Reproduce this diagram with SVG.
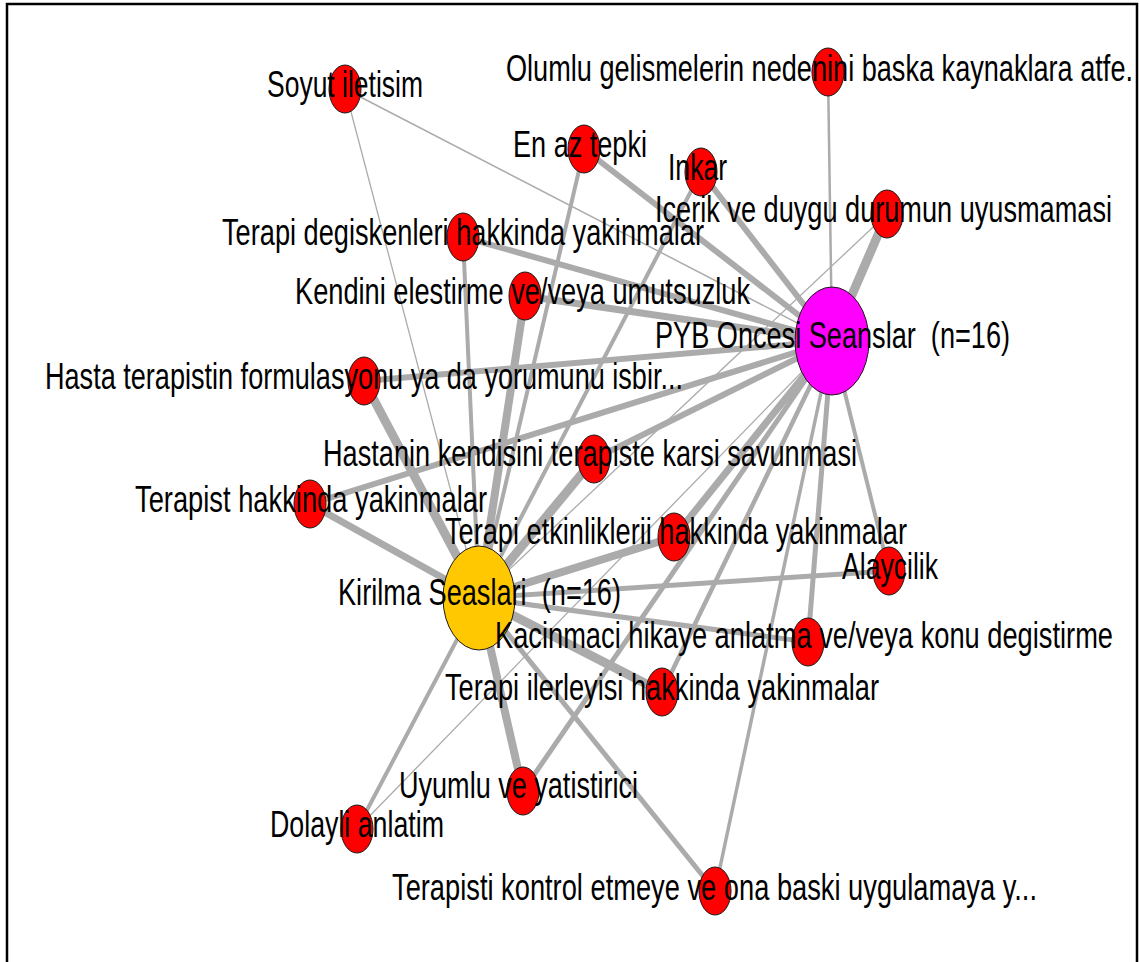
<svg xmlns="http://www.w3.org/2000/svg" width="1140" height="962" viewBox="0 0 1140 962">
  <style>
    .frame { fill: #ffffff; stroke: #000000; stroke-width: 2.5; }
    .edge { stroke: #ababab; stroke-linecap: butt; fill: none; }
    .leaf { fill: #ff0000; stroke: #1a1a1a; stroke-width: 1; }
    .hub-a { fill: #ff00ff; stroke: #1a1a1a; stroke-width: 1; }
    .hub-b { fill: #ffc800; stroke: #1a1a1a; stroke-width: 1; }
    .lbl { font-family: "Liberation Sans", Arial, sans-serif; font-size: 36px; fill: #000000; text-anchor: middle; }
  </style>

  <rect class="frame" x="7" y="4" width="1130" height="980"/>

  <!-- connectors: every category links to the two session groups -->
  <g id="edges" class="edge">
    <!-- PYB Oncesi Seanslar (832,341) -->
    <line x1="832" y1="341" x2="828" y2="72" stroke-width="2.5"/>
    <line x1="832" y1="341" x2="887" y2="214" stroke-width="9"/>
    <line x1="832" y1="341" x2="701" y2="172" stroke-width="6"/>
    <line x1="832" y1="341" x2="584" y2="149" stroke-width="6"/>
    <line x1="832" y1="341" x2="345" y2="89" stroke-width="1.5"/>
    <line x1="832" y1="341" x2="463" y2="237" stroke-width="6"/>
    <line x1="832" y1="341" x2="525" y2="296" stroke-width="7"/>
    <line x1="832" y1="341" x2="364" y2="381" stroke-width="6"/>
    <line x1="832" y1="341" x2="594" y2="459" stroke-width="6"/>
    <line x1="832" y1="341" x2="310" y2="504" stroke-width="6"/>
    <line x1="832" y1="341" x2="674" y2="537" stroke-width="7"/>
    <line x1="832" y1="341" x2="889" y2="571" stroke-width="4"/>
    <line x1="832" y1="341" x2="808" y2="642" stroke-width="5"/>
    <line x1="832" y1="341" x2="662" y2="692" stroke-width="4.5"/>
    <line x1="832" y1="341" x2="523" y2="791" stroke-width="5"/>
    <line x1="832" y1="341" x2="715" y2="891" stroke-width="3.5"/>
    <line x1="832" y1="341" x2="357" y2="829" stroke-width="1.3"/>
    <!-- Kirilma Seaslari (479,598) -->
    <line x1="479" y1="598" x2="345" y2="89" stroke-width="1.3"/>
    <line x1="479" y1="598" x2="584" y2="149" stroke-width="4"/>
    <line x1="479" y1="598" x2="701" y2="172" stroke-width="4"/>
    <line x1="479" y1="598" x2="887" y2="214" stroke-width="1.3"/>
    <line x1="479" y1="598" x2="463" y2="237" stroke-width="4"/>
    <line x1="479" y1="598" x2="525" y2="296" stroke-width="8"/>
    <line x1="479" y1="598" x2="364" y2="381" stroke-width="9"/>
    <line x1="479" y1="598" x2="594" y2="459" stroke-width="9"/>
    <line x1="479" y1="598" x2="310" y2="504" stroke-width="7"/>
    <line x1="479" y1="598" x2="674" y2="537" stroke-width="8"/>
    <line x1="479" y1="598" x2="889" y2="571" stroke-width="5"/>
    <line x1="479" y1="598" x2="808" y2="642" stroke-width="5"/>
    <line x1="479" y1="598" x2="662" y2="692" stroke-width="9"/>
    <line x1="479" y1="598" x2="523" y2="791" stroke-width="8"/>
    <line x1="479" y1="598" x2="715" y2="891" stroke-width="5"/>
    <line x1="479" y1="598" x2="357" y2="829" stroke-width="4"/>
  </g>

  <!-- session groups -->
  <g id="pyb-oncesi">
    <ellipse class="hub-a" cx="832" cy="341" rx="37" ry="54"/>
    <text class="lbl" x="832.5" y="348" textLength="355" lengthAdjust="spacingAndGlyphs" xml:space="preserve">PYB Oncesi Seanslar  (n=16)</text>
  </g>
  <g id="kirilma">
    <ellipse class="hub-b" cx="479" cy="598" rx="36" ry="52"/>
    <text class="lbl" x="479.5" y="605" textLength="283" lengthAdjust="spacingAndGlyphs" xml:space="preserve">Kirilma Seaslari  (n=16)</text>
  </g>

  <!-- categories -->
  <g id="soyut-iletisim">
    <ellipse class="leaf" cx="345" cy="89" rx="16" ry="24"/>
    <text class="lbl" x="345" y="97" textLength="156" lengthAdjust="spacingAndGlyphs">Soyut iletisim</text>
  </g>
  <g id="olumlu-gelismeler">
    <ellipse class="leaf" cx="828" cy="72" rx="16" ry="24"/>
    <text class="lbl" x="819.5" y="81" textLength="627" lengthAdjust="spacingAndGlyphs">Olumlu gelismelerin nedenini baska kaynaklara atfe.</text>
  </g>
  <g id="en-az-tepki">
    <ellipse class="leaf" cx="584" cy="149" rx="16" ry="24"/>
    <text class="lbl" x="580" y="157" textLength="134" lengthAdjust="spacingAndGlyphs">En az tepki</text>
  </g>
  <g id="inkar">
    <ellipse class="leaf" cx="701" cy="172" rx="16" ry="24"/>
    <text class="lbl" x="697.5" y="180" textLength="59" lengthAdjust="spacingAndGlyphs">Inkar</text>
  </g>
  <g id="icerik-duygu">
    <ellipse class="leaf" cx="887" cy="214" rx="16" ry="24"/>
    <text class="lbl" x="883.5" y="222" textLength="457" lengthAdjust="spacingAndGlyphs">Icerik ve duygu durumun uyusmamasi</text>
  </g>
  <g id="terapi-degiskenleri">
    <ellipse class="leaf" cx="463" cy="237" rx="16" ry="24"/>
    <text class="lbl" x="463" y="245" textLength="482" lengthAdjust="spacingAndGlyphs">Terapi degiskenleri hakkinda yakinmalar</text>
  </g>
  <g id="kendini-elestirme">
    <ellipse class="leaf" cx="525" cy="296" rx="16" ry="24"/>
    <text class="lbl" x="522.5" y="304" textLength="455" lengthAdjust="spacingAndGlyphs">Kendini elestirme ve/veya umutsuzluk</text>
  </g>
  <g id="hasta-formulasyon">
    <ellipse class="leaf" cx="364" cy="381" rx="16" ry="24"/>
    <text class="lbl" x="364" y="389" textLength="638" lengthAdjust="spacingAndGlyphs">Hasta terapistin formulasyonu ya da yorumunu isbir...</text>
  </g>
  <g id="hastanin-savunmasi">
    <ellipse class="leaf" cx="594" cy="459" rx="16" ry="24"/>
    <text class="lbl" x="590" y="466" textLength="534" lengthAdjust="spacingAndGlyphs">Hastanin kendisini terapiste karsi savunmasi</text>
  </g>
  <g id="terapist-hakkinda">
    <ellipse class="leaf" cx="310" cy="504" rx="16" ry="24"/>
    <text class="lbl" x="311" y="512" textLength="352" lengthAdjust="spacingAndGlyphs">Terapist hakkinda yakinmalar</text>
  </g>
  <g id="terapi-etkinlikleri">
    <ellipse class="leaf" cx="674" cy="537" rx="16" ry="24"/>
    <text class="lbl" x="676" y="544" textLength="462" lengthAdjust="spacingAndGlyphs">Terapi etkinliklerii hakkinda yakinmalar</text>
  </g>
  <g id="alaycilik">
    <ellipse class="leaf" cx="889" cy="571" rx="16" ry="24"/>
    <text class="lbl" x="890" y="579" textLength="96" lengthAdjust="spacingAndGlyphs">Alaycilik</text>
  </g>
  <g id="kacinmaci-hikaye">
    <ellipse class="leaf" cx="808" cy="642" rx="16" ry="24"/>
    <text class="lbl" x="804" y="648" textLength="618" lengthAdjust="spacingAndGlyphs">Kacinmaci hikaye anlatma ve/veya konu degistirme</text>
  </g>
  <g id="terapi-ilerleyisi">
    <ellipse class="leaf" cx="662" cy="692" rx="16" ry="24"/>
    <text class="lbl" x="662" y="700" textLength="434" lengthAdjust="spacingAndGlyphs">Terapi ilerleyisi hakkinda yakinmalar</text>
  </g>
  <g id="uyumlu-yatistirici">
    <ellipse class="leaf" cx="523" cy="791" rx="16" ry="24"/>
    <text class="lbl" x="518.5" y="798" textLength="239" lengthAdjust="spacingAndGlyphs">Uyumlu ve yatistirici</text>
  </g>
  <g id="dolayli-anlatim">
    <ellipse class="leaf" cx="357" cy="829" rx="16" ry="24"/>
    <text class="lbl" x="357" y="837" textLength="174" lengthAdjust="spacingAndGlyphs">Dolayli anlatim</text>
  </g>
  <g id="terapisti-kontrol">
    <ellipse class="leaf" cx="715" cy="891" rx="16" ry="24"/>
    <text class="lbl" x="714.5" y="900" textLength="645" lengthAdjust="spacingAndGlyphs">Terapisti kontrol etmeye ve ona baski uygulamaya y...</text>
  </g>
</svg>
